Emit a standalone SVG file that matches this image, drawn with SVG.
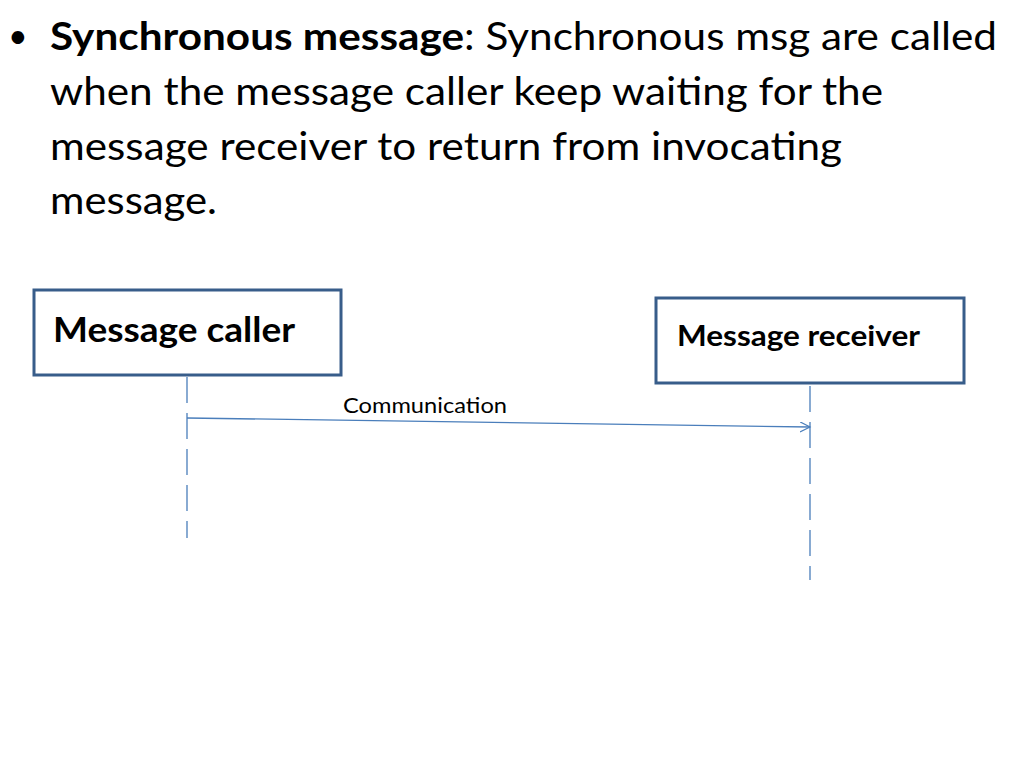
<svg xmlns="http://www.w3.org/2000/svg" width="1024" height="768" viewBox="0 0 1024 768">
<style>
text{font-family:Lato,"Open Sans",sans-serif;fill:#000}
.t{font-size:39px}
.box{fill:#fff;stroke:#385d8a;stroke-width:3}
.life{stroke:#4a7ebb;stroke-width:1.3;stroke-dasharray:26 10}
</style>
<defs><marker id="a" markerWidth="12" markerHeight="12" refX="10" refY="5" orient="auto" markerUnits="userSpaceOnUse"><path d="M0,0 L10,5 L0,10" fill="none" stroke="#4a7ebb" stroke-width="1.2"/></marker></defs>
<g id="bullet">
<text x="8" y="48" font-size="34">•</text>
<text class="t" x="50" y="50" textLength="947" lengthAdjust="spacingAndGlyphs"><tspan font-weight="bold">Synchronous message</tspan>: Synchronous msg are called</text>
<text class="t" x="50" y="105" textLength="833" lengthAdjust="spacingAndGlyphs">when the message caller keep waiting for the</text>
<text class="t" x="50" y="160" textLength="792" lengthAdjust="spacingAndGlyphs">message receiver to return from invocating</text>
<text class="t" x="50" y="214" textLength="167" lengthAdjust="spacingAndGlyphs">message.</text>
</g>
<g id="connectors">
<line class="life" x1="187" y1="377" x2="187" y2="538"/>
<line class="life" x1="810" y1="386" x2="810" y2="580"/>
<line x1="187" y1="418" x2="810" y2="427" stroke="#4a7ebb" stroke-width="1.3" marker-end="url(#a)"/>
<text x="343" y="413" font-size="21" textLength="164" lengthAdjust="spacingAndGlyphs">Communication</text>
</g>
<g id="caller"><rect class="box" x="34" y="290" width="307" height="85"/><text x="53" y="342" font-size="34" font-weight="bold" textLength="242" lengthAdjust="spacingAndGlyphs">Message caller</text></g>
<g id="receiver"><rect class="box" x="656" y="298" width="308" height="85"/><text x="677" y="346" font-size="29" font-weight="bold" textLength="243" lengthAdjust="spacingAndGlyphs">Message receiver</text></g>
</svg>
